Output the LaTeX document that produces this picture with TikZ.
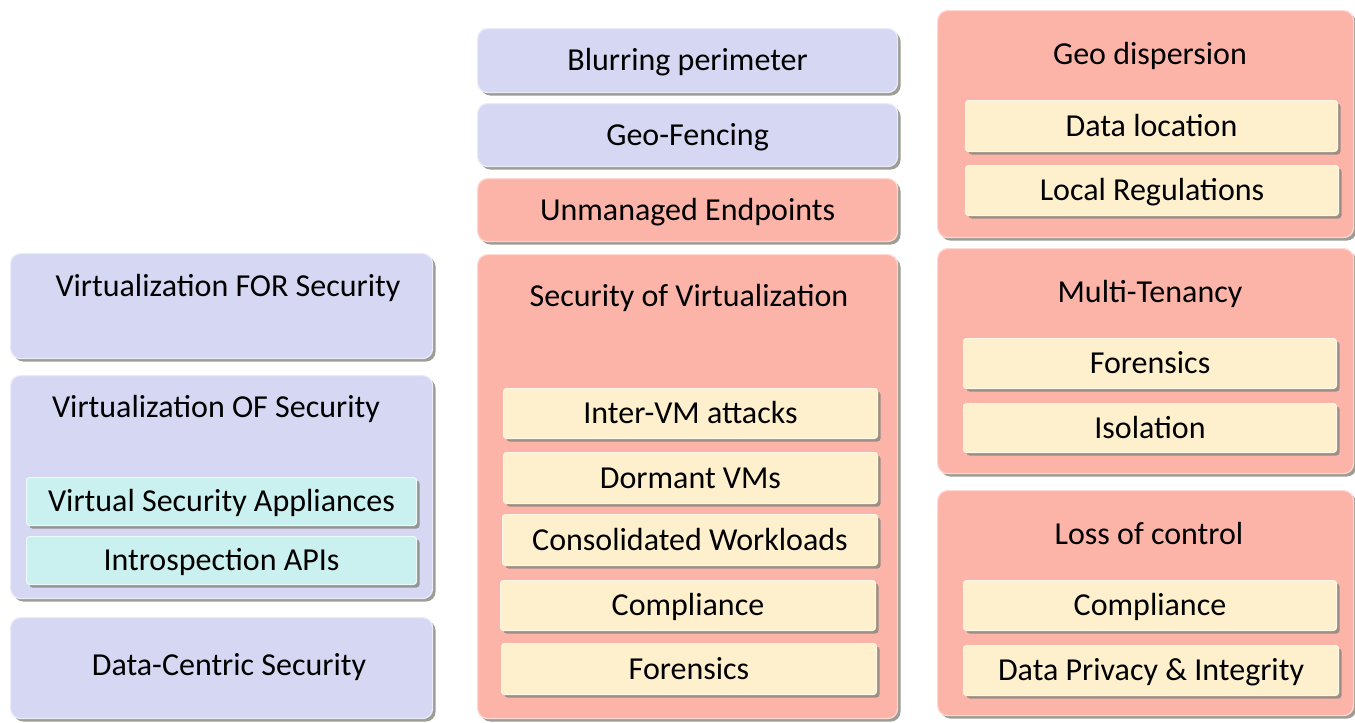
\documentclass[tikz,border=0pt]{standalone}
\usepackage{fontspec}
\setmainfont{Carlito}
\usetikzlibrary{shadows}
\definecolor{lav}{HTML}{D6D8F3}
\definecolor{sal}{HTML}{FDB4A8}
\definecolor{cream}{HTML}{FEF0CD}
\definecolor{aqua}{HTML}{CAF1EF}
\definecolor{shd}{HTML}{85857A}
\begin{document}
\begin{tikzpicture}[x=1pt,y=-1pt,
  font=\fontsize{32}{38}\selectfont,
  base/.style={rectangle, inner sep=0pt, anchor=north west, text height=20.5pt, text depth=0pt,
    drop shadow={shadow xshift=3pt, shadow yshift=-3pt, opacity=0.8, fill=shd}},
  outerbox/.style={base, rounded corners=10pt, line width=1.2pt},
  innerbox/.style={base, rounded corners=3pt, line width=1pt},
  lavbox/.style={outerbox, fill=lav, draw=lav!50!white},
  salbox/.style={outerbox, fill=sal, draw=sal!50!white},
  creambox/.style={innerbox, fill=cream, draw=cream!40!white},
  aquabox/.style={innerbox, fill=aqua, draw=aqua!40!white},
  title/.style={inner sep=0pt, text height=20.5pt, text depth=0pt, anchor=center}
]
\useasboundingbox (0,0) rectangle (1355,723);

% left column
\node[lavbox, minimum width=422pt, minimum height=105pt] (forsec) at (10,253) {};
\node[title] (forsect) at (228,286) {Virtualization FOR Security};
\node[lavbox, minimum width=422pt, minimum height=223pt] (ofsec) at (10,375) {};
\node[title] (ofsect) at (216,407) {Virtualization OF Security};
\node[aquabox, minimum width=390pt, minimum height=48pt] (vsa) at (26,477) {Virtual Security Appliances};
\node[aquabox, minimum width=390pt, minimum height=48pt] (iapi) at (26,536) {Introspection APIs};
\node[lavbox, minimum width=422pt, minimum height=101pt] (dcs) at (10,617) {};
\node[title] (dcst) at (229,665) {Data-Centric Security};

% middle column
\node[lavbox, minimum width=420pt, minimum height=64pt] (blur) at (477,28) {Blurring perimeter};
\node[lavbox, minimum width=420pt, minimum height=63pt] (fence) at (477,103) {Geo-Fencing};
\node[salbox, minimum width=420pt, minimum height=63pt] (unman) at (477,178) {Unmanaged Endpoints};
\node[salbox, minimum width=420pt, minimum height=464pt] (secvirt) at (477,254) {};
\node[title] (secvirtt) at (689,296) {Security of Virtualization};
\node[creambox, minimum width=374pt, minimum height=50pt] (intervm) at (503,388) {Inter-VM attacks};
\node[creambox, minimum width=374pt, minimum height=51pt] (dormant) at (503,452) {Dormant VMs};
\node[creambox, minimum width=375pt, minimum height=51pt] (consol) at (502,514) {Consolidated Workloads};
\node[creambox, minimum width=375pt, minimum height=50pt] (complA) at (500,580) {Compliance};
\node[creambox, minimum width=375pt, minimum height=51pt] (forenA) at (501,643) {Forensics};

% right column
\node[salbox, minimum width=416pt, minimum height=227pt] (geodisp) at (937,10) {};
\node[title] (geodispt) at (1150,54) {Geo dispersion};
\node[creambox, minimum width=372pt, minimum height=51pt] (dataloc) at (965,100) {Data location};
\node[creambox, minimum width=373pt, minimum height=50pt] (localreg) at (965,165) {Local Regulations};

\node[salbox, minimum width=416pt, minimum height=225pt] (multi) at (937,248) {};
\node[title] (multit) at (1150,292) {Multi-Tenancy};
\node[creambox, minimum width=373pt, minimum height=50pt] (forenB) at (963,338) {Forensics};
\node[creambox, minimum width=373pt, minimum height=49pt] (iso) at (963,403) {Isolation};

\node[salbox, minimum width=416pt, minimum height=225pt] (loss) at (937,490) {};
\node[title] (losst) at (1149,534) {Loss of control};
\node[creambox, minimum width=373pt, minimum height=50pt] (complB) at (963,580) {Compliance};
\node[creambox, minimum width=375pt, minimum height=50pt] (privacy) at (963,645) {Data Privacy \& Integrity};
\end{tikzpicture}
\end{document}
